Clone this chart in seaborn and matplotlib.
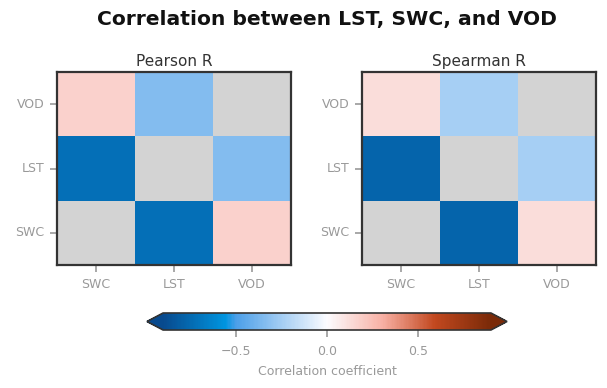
import numpy as np
import pandas as pd
import matplotlib
matplotlib.use("Agg")
import matplotlib.pyplot as plt
import seaborn as sns
from matplotlib.colors import LinearSegmentedColormap, Normalize
from matplotlib.cm import ScalarMappable

variables = ["SWC", "LST", "VOD"]
# pairwise correlations (SWC-LST, SWC-VOD, LST-VOD)
pearson_pairs = [-0.726, 0.17, -0.34]
spearman_pairs = [-0.777, 0.125, -0.24]

cb_ticks = [-0.5, 0.0, 0.5]
vmin, vmax = -0.9, 0.9

sns.set_theme(style="white")
plt.rcParams['font.family'] = ['DejaVu Sans']

def build_matrix(pairs):
    m = np.full((3, 3), np.nan)
    m[0, 1] = m[1, 0] = pairs[0]
    m[0, 2] = m[2, 0] = pairs[1]
    m[1, 2] = m[2, 1] = pairs[2]
    return pd.DataFrame(m, index=variables, columns=variables)

nodes = [
    (0.0, "#084a8e"),
    (0.19, "#0095e0"),
    (0.22, "#4a9ee8"),
    (0.5, "#fcfcff"),
    (0.67, "#f8b0a4"),
    (0.83, "#c2481f"),
    (1.0, "#7a2a08"),
]
cmap = LinearSegmentedColormap.from_list("custom_div", nodes)
cmap.set_bad("#d3d3d3")

fig = plt.figure(figsize=(6.07, 3.88), dpi=100)
W, H = 607, 388
def ax_rect(x0, y0, x1, y1):
    return [x0 / W, 1 - y1 / H, (x1 - x0) / W, (y1 - y0) / H]

ax1 = fig.add_axes(ax_rect(57, 72, 291, 265))
ax2 = fig.add_axes(ax_rect(362, 72, 596, 265))
cax = fig.add_axes(ax_rect(147, 313, 507, 330))

tick_color = "#999999"
for ax, pairs, title in [(ax1, pearson_pairs, "Pearson R"), (ax2, spearman_pairs, "Spearman R")]:
    df = build_matrix(pairs)
    ax.set_facecolor("#d3d3d3")
    sns.heatmap(df, ax=ax, cmap=cmap, vmin=vmin, vmax=vmax, cbar=False,
                mask=df.isna(), square=False)
    ax.invert_yaxis()
    ax.set_title(title, fontsize=11, color="#333333", pad=4)
    ax.tick_params(axis="both", which="both", length=5, width=1.2, color=tick_color,
                   labelcolor=tick_color, labelsize=9, bottom=True, left=True, pad=4)
    ax.tick_params(axis="y", rotation=0)
    for sp in ax.spines.values():
        sp.set_visible(True)
        sp.set_color("#333333")
        sp.set_linewidth(1.6)

norm = Normalize(vmin=vmin, vmax=vmax)
sm = ScalarMappable(norm=norm, cmap=cmap)
cb = fig.colorbar(sm, cax=cax, orientation="horizontal", extend="both", extendfrac=0.049)
cb.set_ticks(cb_ticks)
cb.ax.tick_params(length=5, width=1.2, color=tick_color, labelcolor=tick_color, labelsize=9, pad=6)
cb.outline.set_edgecolor("#333333")
cb.outline.set_linewidth(1.2)
cb.set_label("Correlation coefficient", color=tick_color, fontsize=9, labelpad=5)

fig.suptitle("Correlation between LST, SWC, and VOD", x=0.538, y=0.975,
             fontsize=14.6, fontweight="bold", color="#111111")

fig.savefig("out.png", dpi=100)
